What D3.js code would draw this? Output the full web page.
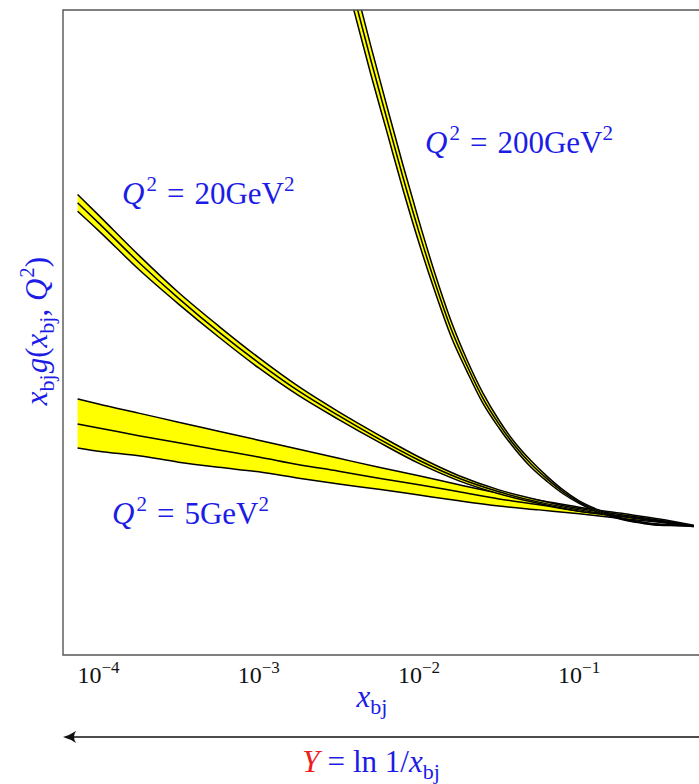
<!DOCTYPE html>
<html><head><meta charset="utf-8">
<script src="https://cdn.jsdelivr.net/npm/d3@7"></script>
<style>body{margin:0;background:#fff}svg{display:block}</style>
</head><body><svg id="c" width="699" height="784"></svg>
<script>
// x grid for Q^2 = 5 and 20 GeV^2 curves
const xGrid = [7.4e-5, 1e-4, 1.78e-4, 3.16e-4, 5.62e-4, 1e-3, 1.78e-3, 3.16e-3, 5.62e-3, 0.01, 0.0178, 0.0316, 0.0562, 0.1, 0.178, 0.316, 0.52];
const q5Center = [3.58, 3.52, 3.40, 3.29, 3.18, 3.07, 2.95, 2.85, 2.74, 2.64, 2.53, 2.42, 2.33, 2.23, 2.16, 2.08, 2.00];
const q5Upper  = [3.97, 3.89, 3.75, 3.61, 3.47, 3.33, 3.19, 3.05, 2.91, 2.78, 2.64, 2.51, 2.40, 2.29, 2.20, 2.11, 2.01];
const q5Lower  = [3.21, 3.16, 3.09, 2.99, 2.91, 2.84, 2.74, 2.65, 2.57, 2.48, 2.39, 2.31, 2.25, 2.19, 2.12, 2.06, 1.99];
const q20Center = [7.01, 6.70, 6.09, 5.53, 5.01, 4.53, 4.09, 3.71, 3.35, 3.02, 2.74, 2.53, 2.37, 2.25, 2.16, 2.08, 2.00];
const q20Upper  = [7.14, 6.82, 6.20, 5.62, 5.10, 4.61, 4.16, 3.77, 3.41, 3.07, 2.78, 2.56, 2.40, 2.27, 2.18, 2.09, 2.00];
const q20Lower  = [6.88, 6.58, 5.98, 5.44, 4.93, 4.45, 4.02, 3.65, 3.30, 2.97, 2.70, 2.50, 2.35, 2.23, 2.15, 2.07, 2.00];
// x grid for Q^2 = 200 GeV^2
const xGrid200 = [0.00316, 0.00398, 0.00501, 0.00631, 0.00794, 0.01, 0.0126, 0.0158, 0.0200, 0.0251, 0.0316, 0.0398, 0.0501, 0.0631, 0.0794, 0.1, 0.126, 0.158, 0.200, 0.251, 0.316, 0.398, 0.52];
const q200Center = [11.13, 10.17, 9.22, 8.31, 7.41, 6.56, 5.77, 5.07, 4.48, 3.98, 3.58, 3.24, 2.96, 2.73, 2.53, 2.37, 2.25, 2.16, 2.09, 2.05, 2.02, 2.01, 2.00];
const q200Upper  = [11.38, 10.40, 9.44, 8.51, 7.60, 6.73, 5.91, 5.19, 4.57, 4.06, 3.64, 3.29, 3.01, 2.77, 2.56, 2.39, 2.27, 2.175, 2.10, 2.06, 2.03, 2.015, 2.00];
const q200Lower  = [10.88, 9.94, 9.00, 8.11, 7.22, 6.39, 5.63, 4.95, 4.39, 3.90, 3.52, 3.19, 2.91, 2.69, 2.50, 2.35, 2.23, 2.145, 2.08, 2.04, 2.01, 2.005, 2.00];
const seriesLabels = ["5", "20", "200"];
const tickValues = [1e-4, 1e-3, 1e-2, 1e-1];
const tickExponents = ["\u22124", "\u22123", "\u22122", "\u22121"];

const BLUE = "#1c1ce6", RED = "#ee1c1c";
const FONT = "'Liberation Serif','DejaVu Serif',serif";
const svg = d3.select("#c");
const L = 63, T = 10, R = 699, B = 655;
const x = d3.scaleLog().domain([6e-5, 0.56]).range([L, R]);
const y = d3.scaleLinear().domain([0, 10]).range([B, T]);

svg.append("clipPath").attr("id", "clip").append("rect")
  .attr("x", L).attr("y", T).attr("width", R - L).attr("height", B - T);

const series = [
  {xs: xGrid, c: q5Center, u: q5Upper, l: q5Lower},
  {xs: xGrid, c: q20Center, u: q20Upper, l: q20Lower},
  {xs: xGrid200, c: q200Center, u: q200Upper, l: q200Lower}
];
const g = svg.append("g").attr("clip-path", "url(#clip)");
series.forEach(s => {
  const pts = s.xs.map((xv, i) => ({x: xv, c: s.c[i], u: s.u[i], l: s.l[i]}));
  const area = d3.area().x(d => x(d.x)).y0(d => y(d.l)).y1(d => y(d.u)).curve(d3.curveMonotoneX);
  g.append("path").datum(pts).attr("d", area).attr("fill", "#ffff00").attr("stroke", "none");
  ["u", "c", "l"].forEach(k => {
    const line = d3.line().x(d => x(d.x)).y(d => y(d[k])).curve(d3.curveMonotoneX);
    g.append("path").datum(pts).attr("d", line).attr("fill", "none")
      .attr("stroke", "#000").attr("stroke-width", 1.5);
  });
});

// frame (right side extends beyond the canvas)
svg.append("path").attr("d", `M${R},${T}H${L}V${B}H${R}`)
  .attr("fill", "none").attr("stroke", "#555").attr("stroke-width", 1.4);

// tick labels
tickValues.forEach((v, i) => {
  const t = svg.append("text").attr("x", x(v)).attr("y", 683)
    .attr("text-anchor", "middle").attr("font-family", FONT).attr("font-size", 24).attr("fill", "#111");
  t.append("tspan").text("10");
  t.append("tspan").attr("dy", -10).attr("font-size", 17).text(tickExponents[i]);
});

// math text helper
function mathText(sel, parts) {
  parts.forEach(p => {
    const ts = sel.append("tspan").text(p.t);
    if (p.i) ts.attr("font-style", "italic");
    if (p.fill) ts.attr("fill", p.fill);
    if (p.fs) ts.attr("font-size", p.fs);
    if (p.dy) ts.attr("dy", p.dy);
    if (p.dx) ts.attr("dx", p.dx);
  });
}
function qLabel(xp, yp, val) {
  const t = svg.append("text").attr("x", xp).attr("y", yp).attr("font-family", FONT)
    .attr("font-size", 31).attr("fill", BLUE);
  mathText(t, [
    {t: "Q", i: true},
    {t: "2", fs: 21, dy: -13, dx: 2},
    {t: "=", dy: 13, dx: 10},
    {t: val + "GeV", dx: 10},
    {t: "2", fs: 21, dy: -13}
  ]);
}
qLabel(425, 153, seriesLabels[2]);
qLabel(122, 204, seriesLabels[1]);
qLabel(112, 524, seriesLabels[0]);

// x axis label
const xl = svg.append("text").attr("x", 372).attr("y", 707).attr("text-anchor", "middle")
  .attr("font-family", FONT).attr("font-size", 31).attr("fill", BLUE);
mathText(xl, [{t: "x", i: true}, {t: "bj", fs: 22, dy: 7}]);

// y axis label
const yl = svg.append("text").attr("transform", "translate(47,331) rotate(-90)")
  .attr("text-anchor", "middle").attr("font-family", FONT).attr("font-size", 31).attr("fill", BLUE);
mathText(yl, [
  {t: "x", i: true}, {t: "bj", fs: 22, dy: 7},
  {t: "g", i: true, dy: -7, dx: 1}, {t: "("},
  {t: "x", i: true}, {t: "bj", fs: 22, dy: 7},
  {t: ", ", dy: -7}, {t: "Q", i: true},
  {t: "2", fs: 21, dy: -13, dx: 1}, {t: ")", dy: 13}
]);

// Y arrow
svg.append("line").attr("x1", 699).attr("x2", 66).attr("y1", 737).attr("y2", 737)
  .attr("stroke", "#111").attr("stroke-width", 1.6);
svg.append("path").attr("d", "M63,737 Q70,735 76,731 Q72,737 76,743 Q70,739 63,737 Z")
  .attr("fill", "#111");

const yt = svg.append("text").attr("x", 371).attr("y", 772).attr("text-anchor", "middle")
  .attr("font-family", FONT).attr("font-size", 31).attr("fill", BLUE);
mathText(yt, [
  {t: "Y", i: true, fill: RED},
  {t: "=", dx: 8},
  {t: "ln 1/", dx: 8},
  {t: "x", i: true}, {t: "bj", fs: 22, dy: 7}
]);
</script></body></html>
